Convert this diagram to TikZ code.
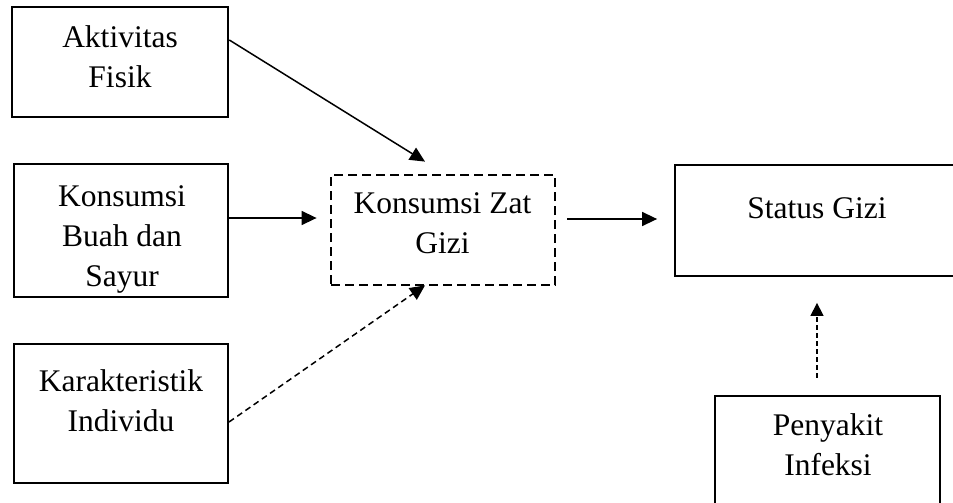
\documentclass[tikz,border=0pt]{standalone}
\usepackage{fontspec}
\setmainfont{Liberation Serif}
\usetikzlibrary{arrows.meta}

\begin{document}
\begin{tikzpicture}[x=1pt,y=-1pt,
    box/.style={draw,line width=2pt,inner sep=0pt},
    zatbox/.style={draw,line width=2.8pt,dash pattern=on 9pt off 5pt,inner sep=0pt},
    txt/.style={align=center,inner sep=0pt,font=\fontsize{31.5}{40}\selectfont},
    arr/.style={-{Triangle[length=15pt,width=14pt]},line width=1.5pt},
    darr/.style={arr,dash pattern=on 6pt off 4pt}]
      \useasboundingbox (0,0) rectangle (953,503);
      \clip (0,0) rectangle (953,503);

      % boxes
      \node[box,line width=2.6pt,minimum width=216pt,minimum height=110pt] (akt) at (120,62) {};
      \node[box,line width=1.7pt,minimum width=214pt,minimum height=133pt] (buah) at (121,230.5) {};
      \node[box,minimum width=214pt,minimum height=139pt] (kar) at (121,413.5) {};
      \node[zatbox,minimum width=224pt,minimum height=110pt] (zat) at (443,230) {};
      \node[box,line width=1.8pt,minimum width=284pt,minimum height=111pt] (status) at (817,220.5) {};
      \node[box,line width=2.3pt,minimum width=225pt,minimum height=119pt] (pen) at (827.5,455.5) {};

      % texts
      \node[txt] (akt-t) at (120,57) {Aktivitas\\Fisik};
      \node[txt] (buah-t) at (122,239) {Konsumsi\\Buah dan\\Sayur};
      \node[txt] (kar-t) at (121,401) {Karakteristik\\Individu};
      \node[txt] (zat-t) at (442.5,223) {Konsumsi Zat\\Gizi};
      \node[txt] (status-t) at (817,208) {Status Gizi};
      \node[txt] (pen-t) at (828,445) {Penyakit\\Infeksi};

      % arrows
      \draw[arr] ([yshift=22pt]akt.east) -- ([xshift=-18pt,yshift=12pt]zat.north);
      \draw[arr] ([yshift=12.5pt]buah.east) -- ([xshift=-13pt,yshift=12pt]zat.west);
      \draw[darr] ([yshift=-8.5pt]kar.east) -- ([xshift=-18pt,yshift=1pt]zat.south);
      \draw[arr] ([xshift=11pt,yshift=11pt]zat.east) -- ([xshift=-17pt,yshift=1.5pt]status.west);
      \draw[darr,line width=1.3pt,dash pattern=on 5pt off 3pt,-{Triangle[length=13pt,width=13pt]}] ([xshift=-10.5pt,yshift=17pt]pen.north) -- ([yshift=-26pt]status.south);
    \end{tikzpicture}
\end{document}
